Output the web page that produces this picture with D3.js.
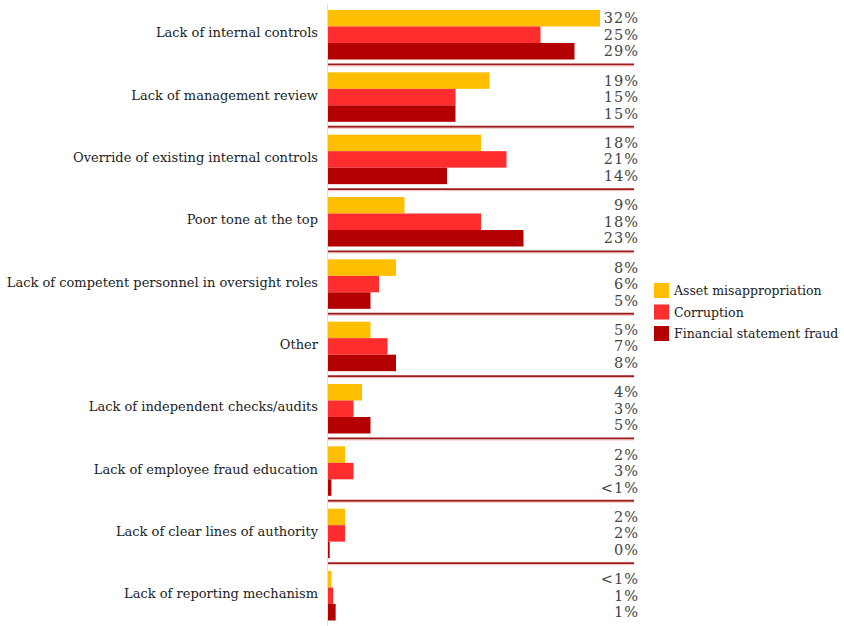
<!DOCTYPE html>
<html lang="en">
<head>
	<meta charset="UTF-8">
	<title>Fraud weaknesses</title>
	<script src="https://cdn.jsdelivr.net/npm/d3@7"></script>
	<style>
		body {
			margin: 0;
			background-color: #ffffff;
		}
		text {
			font-family: 'DejaVu Serif', 'Liberation Serif', serif;
		}
		.label {
			font-size: 13px;
			fill: #222;
		}
		.pct {
			font-size: 14.5px;
			letter-spacing: 1px;
			fill: #444;
		}
		.legend text {
			font-size: 12.5px;
			fill: #222;
		}
	</style>
</head>
<body>
<script>

	var categories = [
		'Lack of internal controls',
		'Lack of management review',
		'Override of existing internal controls',
		'Poor tone at the top',
		'Lack of competent personnel in oversight roles',
		'Other',
		'Lack of independent checks/audits',
		'Lack of employee fraud education',
		'Lack of clear lines of authority',
		'Lack of reporting mechanism'
	];

	var series = ['Asset misappropriation', 'Corruption', 'Financial statement fraud'];

	// bar lengths (percent)
	var assetValues = [32, 19, 18, 9, 8, 5, 4, 2, 2, 0.4];
	var corruptionValues = [25, 15, 21, 18, 6, 7, 3, 3, 2, 0.6];
	var financialValues = [29, 15, 14, 23, 5, 8, 5, 0.4, 0.2, 0.9];

	// printed labels
	var assetLabels = ['32%', '19%', '18%', '9%', '8%', '5%', '4%', '2%', '2%', '<1%'];
	var corruptionLabels = ['25%', '15%', '21%', '18%', '6%', '7%', '3%', '3%', '2%', '1%'];
	var financialLabels = ['29%', '15%', '14%', '23%', '5%', '8%', '5%', '<1%', '0%', '1%'];

	var colors = ['#ffbf00', '#ff2d2d', '#b30000'];

	var width = 844, height = 626;

	var svg = d3.select('body').append('svg')
		.attr('width', width)
		.attr('height', height);

	var values = [assetValues, corruptionValues, financialValues];
	var labels = [assetLabels, corruptionLabels, financialLabels];

	var x = d3.scaleLinear()
		.domain([0, 32])
		.range([328, 600]);

	var y = d3.scaleBand()
		.domain(categories)
		.range([10, 620.5])
		.paddingInner(0.206)
		.paddingOuter(0);

	var ySub = d3.scaleBand()
		.domain(series)
		.range([0, y.bandwidth()]);

	var color = d3.scaleOrdinal()
		.domain(series)
		.range(colors);

	// faint axis line
	svg.append('line')
		.attr('x1', 327.5).attr('x2', 327.5)
		.attr('y1', 4).attr('y2', height)
		.style('stroke', '#f0d4d4')
		.style('stroke-width', 1);

	var groups = svg.selectAll('.group')
		.data(categories)
		.enter()
		.append('g')
		.attr('class', 'group')
		.attr('transform', function(d) {
			return 'translate(0,' + y(d) + ')';
		});

	groups.each(function(cat, i) {
		var g = d3.select(this);
		series.forEach(function(s, j) {
			g.append('rect')
				.attr('x', x(0))
				.attr('y', ySub(s))
				.attr('width', Math.max(x(values[j][i]) - x(0), 1))
				.attr('height', ySub.bandwidth())
				.style('fill', color(s));

			g.append('text')
				.attr('class', 'pct')
				.attr('x', 639)
				.attr('y', ySub(s) + ySub.bandwidth() / 2)
				.attr('dy', '0.35em')
				.style('text-anchor', 'end')
				.text(labels[j][i]);
		});

		g.append('text')
			.attr('class', 'label')
			.attr('x', 318)
			.attr('y', y.bandwidth() / 2 - 2)
			.attr('dy', '0.35em')
			.style('text-anchor', 'end')
			.text(cat);

		if (i < categories.length - 1) {
			g.append('line')
				.attr('x1', 328)
				.attr('x2', 634)
				.attr('y1', y.bandwidth() + 5)
				.attr('y2', y.bandwidth() + 5)
				.style('stroke', '#9c1a1a')
				.style('stroke-width', 2);
			g.append('line')
				.attr('x1', 328)
				.attr('x2', 634)
				.attr('y1', y.bandwidth() + 6.5)
				.attr('y2', y.bandwidth() + 6.5)
				.style('stroke', '#f4c4c4')
				.style('stroke-width', 1);
		}
	});

	var legend = svg.selectAll('.legend')
		.data(series)
		.enter()
		.append('g')
		.attr('class', 'legend')
		.attr('transform', function(d, i) {
			return 'translate(654,' + (283 + i * 21.5) + ')';
		});

	legend.append('rect')
		.attr('width', 15)
		.attr('height', 15)
		.style('fill', color);

	legend.append('text')
		.attr('x', 20)
		.attr('y', 12)
		.text(function(d) {
			return d;
		});

</script>
</body>
</html>
